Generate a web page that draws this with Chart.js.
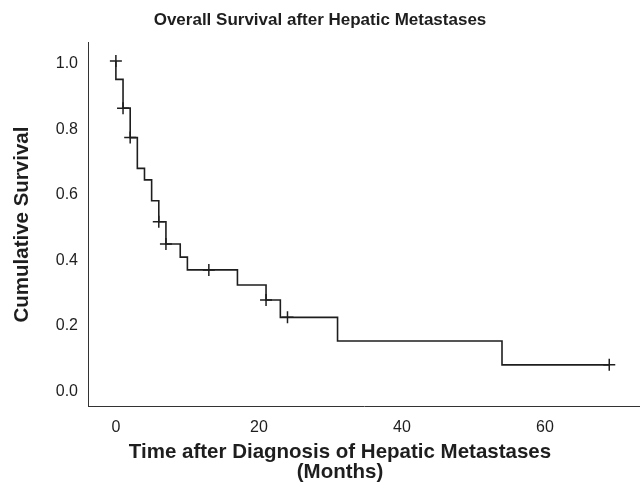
<!DOCTYPE html>
<html>
<head>
<meta charset="utf-8">
<script src="https://cdn.jsdelivr.net/npm/chart.js@4.4.1/dist/chart.umd.min.js"></script>
<style>
  html, body { margin: 0; padding: 0; background: #fff; }
  #wrap { width: 640px; height: 490px; }
</style>
</head>
<body>
<div id="wrap"><canvas id="survivalChart"></canvas></div>
<script>
// Kaplan-Meier estimate (months, cumulative survival)
const eventTimes = [0, 1, 2, 3, 4, 5, 6, 7, 9, 10, 17, 21, 23, 31, 54];
const survival = [0.944, 0.856, 0.766, 0.672, 0.637, 0.573, 0.509, 0.441, 0.401, 0.362, 0.316, 0.270, 0.217, 0.145, 0.072];

// censored cases (the + marks)
const censorTimes = [0, 1, 2, 6, 7, 13, 21, 24, 69];
const censorSurvival = [1.0, 0.856, 0.766, 0.509, 0.441, 0.362, 0.270, 0.217, 0.072];

const xTicks = [0, 20, 40, 60];
const yTicks = [0.0, 0.2, 0.4, 0.6, 0.8, 1.0];
const xTitleLines = ["Time after Diagnosis of Hepatic Metastases", "(Months)"];

const ink = "#1e1e1e";
const fontFamily = "'Liberation Sans', Arial, sans-serif";

// step curve starts at 1.0 and runs out to the last follow-up
var curve = [{ x: 0, y: 1 }];
eventTimes.forEach((t, i) => {
  curve.push({ x: t, y: survival[i] });
});
curve.push({ x: censorTimes[censorTimes.length - 1], y: survival[survival.length - 1] });

var censored = censorTimes.map((t, i) => ({ x: t, y: censorSurvival[i] }));

// SPSS puts the x axis title a bit left of the plot centre, so draw it here
const xTitlePlugin = {
  id: "xTitle",
  afterDraw(chart) {
    const c = chart.ctx;
    c.save();
    c.fillStyle = ink;
    c.font = "bold 20.5px " + fontFamily;
    c.textAlign = "center";
    c.textBaseline = "middle";
    xTitleLines.forEach((line, i) => {
      c.fillText(line, 340, 452 + i * 20);
    });
    c.restore();
  },
};

const ctx = document.getElementById("survivalChart");
new Chart(ctx, {
  type: "line",
  data: {
    datasets: [
      {
        label: "Survival",
        data: curve,
        stepped: true,
        borderColor: ink,
        borderWidth: 1.6,
        pointRadius: 0,
        fill: false,
      },
      {
        label: "Censored",
        type: "scatter",
        data: censored,
        pointStyle: "cross",
        pointRadius: 6,
        borderColor: ink,
        borderWidth: 1.5,
        showLine: false,
      },
    ],
  },
  plugins: [xTitlePlugin],
  options: {
    responsive: true,
    maintainAspectRatio: false,
    animation: false,
    layout: { autoPadding: false, padding: 0 },
    plugins: {
      legend: { display: false },
      tooltip: { enabled: false },
      title: {
        display: true,
        text: "Overall Survival after Hepatic Metastases",
        color: ink,
        font: { family: fontFamily, size: 17, weight: "bold", lineHeight: 1.2 },
        padding: { top: 10, bottom: 12 },
      },
    },
    scales: {
      x: {
        type: "linear",
        min: -3.9,
        max: 73.3,
        afterFit: (scale) => {
          scale.height = 83.3;
        },
        afterBuildTicks: (scale) => {
          scale.ticks = xTicks.map((v) => ({ value: v }));
        },
        grid: { display: true, drawOnChartArea: false, drawTicks: false },
        border: { display: true, color: "#333", width: 1 },
        ticks: {
          color: ink,
          padding: 11,
          maxRotation: 0,
          font: { family: fontFamily, size: 16 },
        },
        title: { display: false },
      },
      y: {
        type: "linear",
        min: -0.0559,
        max: 1.0568,
        afterFit: (scale) => {
          scale.width = 88;
        },
        afterBuildTicks: (scale) => {
          scale.ticks = yTicks.map((v) => ({ value: v }));
        },
        grid: { display: true, drawOnChartArea: false, drawTicks: false },
        border: { display: true, color: "#333", width: 1 },
        ticks: {
          color: ink,
          padding: 10,
          labelOffset: 3,
          font: { family: fontFamily, size: 16 },
          callback: (v) => v.toFixed(1),
        },
        title: {
          display: true,
          text: "Cumulative Survival",
          color: ink,
          font: { family: fontFamily, size: 20.5, weight: "bold", lineHeight: 1.2 },
          padding: { top: 10, bottom: 0 },
        },
      },
    },
  },
});
</script>
</body>
</html>
